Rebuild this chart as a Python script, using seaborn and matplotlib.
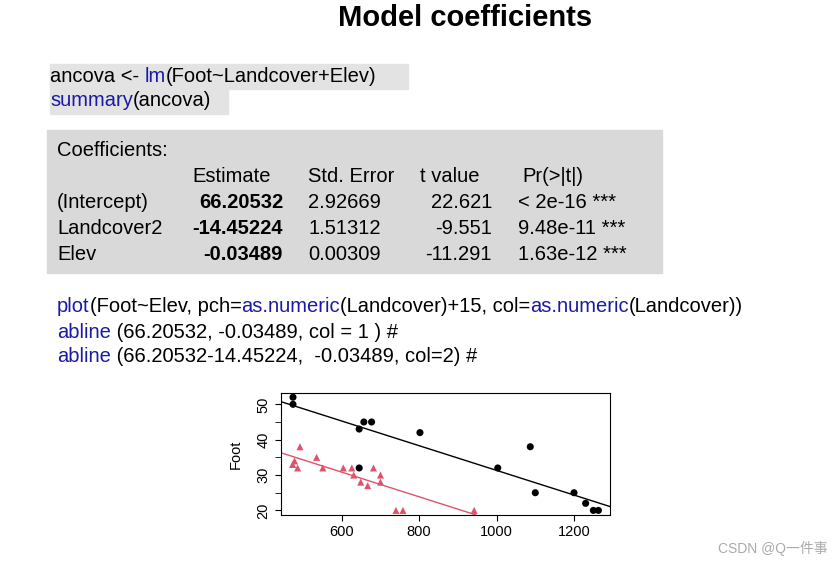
import matplotlib
matplotlib.use("Agg")
import matplotlib.pyplot as plt
import seaborn as sns
import pandas as pd
from matplotlib.patches import Rectangle

sns.set_style("white")
plt.rcParams['font.family'] = ['Liberation Sans', 'Noto Sans CJK SC', 'DejaVu Sans']
plt.rcParams['text.color'] = 'black'
plt.rcParams['xtick.color'] = 'black'
plt.rcParams['ytick.color'] = 'black'
plt.rcParams['axes.labelcolor'] = 'black'

elev1 = [474, 474, 645, 645, 657, 677, 802, 1003, 1087, 1100, 1200, 1230, 1250, 1263]
foot1 = [52, 50, 43, 32, 45, 45, 42, 32, 38, 25, 25, 22, 20, 20]
elev2 = [473, 478, 486, 492, 535, 551, 604, 626, 631, 649, 667, 682, 700, 700, 740, 758, 942]
foot2 = [33, 34, 32, 38, 35, 32, 32, 32, 30, 28, 27, 32, 30, 28, 20, 20, 20]
intercept1 = 66.20532
slope = -0.03489
intercept2 = 66.20532 - 14.45224

BLUE = '#1a1aa6'
fig = plt.figure(figsize=(8.4, 5.64), dpi=100)
H = 564.0

def fy(y):
    return 1 - y / H

fig.text(465/840, fy(18), "Model coefficients", ha='center', va='center', fontsize=21, fontweight='bold')

fig.patches.append(Rectangle((50/840, fy(89)), 358/840, 25/H, transform=fig.transFigure, color='#e3e3e3', zorder=0))
fig.patches.append(Rectangle((50/840, fy(114)), 178/840, 25/H, transform=fig.transFigure, color='#e3e3e3', zorder=0))
fig.patches.append(Rectangle((47/840, fy(273)), 615/840, 143/H, transform=fig.transFigure, color='#d9d9d9', zorder=0))

FS = 14.5

def chain(x, y, parts, size=FS):
    prev = None
    for s, c in parts:
        if prev is None:
            t = fig.text(x/840, fy(y), s, color=c, fontsize=size, va='center', ha='left')
        else:
            t = fig.add_artist(matplotlib.text.Annotation(s, xy=(1, 0.5), xycoords=prev, va='center',
                                                          ha='left', color=c, fontsize=size))
        prev = t

chain(50, 76, [("ancova <- ", 'black'), ("lm", BLUE), ("(Foot~Landcover+Elev)", 'black')])
chain(50, 101, [("summary", BLUE), ("(ancova)", 'black')])

fs = 14.5
fig.text(57/840, fy(150), "Coefficients:", fontsize=fs, va='center')
for s, x in [("Estimate", 192), ("Std. Error", 308), ("t value", 420), ("Pr(>|t|)", 522)]:
    fig.text(x/840, fy(176), s, fontsize=fs, va='center')
rows = [("(Intercept)", "66.20532", "2.92669", "22.621", "< 2e-16 ***"),
        ("Landcover2", "-14.45224", "1.51312", "-9.551", "9.48e-11 ***"),
        ("Elev", "-0.03489", "0.00309", "-11.291", "1.63e-12 ***")]
for i, (a, b, c, d, e) in enumerate(rows):
    y = fy(202 + 26*i)
    fig.text(57/840, y, a, fontsize=fs, va='center')
    fig.text(283/840, y, b, fontsize=fs, va='center', ha='right', fontweight='bold')
    fig.text(308/840, y, c, fontsize=fs, va='center')
    fig.text(492/840, y, d, fontsize=fs, va='center', ha='right')
    fig.text(518/840, y, e, fontsize=fs, va='center')

chain(57, 307, [("plot", BLUE), ("(Foot~Elev, pch=", 'black'), ("as.numeric", BLUE),
                ("(Landcover)+15, col=", 'black'), ("as.numeric", BLUE), ("(Landcover))", 'black')])
chain(57, 332, [("abline", BLUE), (" (66.20532, -0.03489, col = 1 ) #", 'black')])
chain(57, 357, [("abline", BLUE), (" (66.20532-14.45224,  -0.03489, col=2) #", 'black')])

fig.text(828/840, fy(548), "CSDN @Q一件事", fontsize=10, color='#aaaaaa', ha='right', va='center')

ax = fig.add_axes([281/840, 1 - 515/H, 329/840, 122/H])
df = pd.DataFrame({'Elev': elev1 + elev2, 'Foot': foot1 + foot2,
                   'Landcover': ['1']*len(elev1) + ['2']*len(elev2)})
sns.scatterplot(data=df, x='Elev', y='Foot', hue='Landcover', style='Landcover',
                markers={'1': 'o', '2': '^'}, palette={'1': 'black', '2': '#df536b'},
                s=26, edgecolor='none', legend=False, ax=ax)
ax.axline((0, intercept1), slope=slope, color='black', lw=1)
ax.axline((0, intercept2), slope=slope, color='#df536b', lw=1)
ax.set_xlim(443, 1293)
ax.set_ylim(18.7, 53.2)
ax.set_xticks([600, 800, 1000, 1200])
ax.set_yticks([20, 30, 40, 50])
ax.set_yticks([25, 35, 45], minor=True)
ax.tick_params(axis='both', which='both', direction='out', length=4, labelsize=10.5, left=True, bottom=True)
for lab in ax.get_yticklabels():
    lab.set_rotation(90); lab.set_va('center')
ax.set_xlabel('')
ax.set_ylabel('Foot', fontsize=10.5, labelpad=10)
for sp in ax.spines.values():
    sp.set_color('black'); sp.set_linewidth(0.8)

fig.savefig('out.png', dpi=100)
